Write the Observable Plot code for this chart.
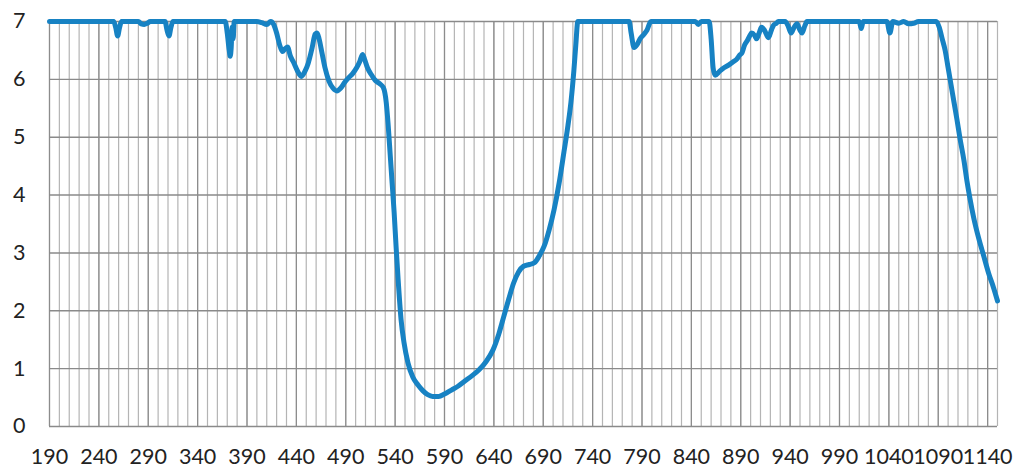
<!DOCTYPE html>
<html>
<head>
<meta charset="utf-8">
<script src="https://cdn.jsdelivr.net/npm/d3@7"></script>
<script src="https://cdn.jsdelivr.net/npm/@observablehq/plot@0.6"></script>
<style>
  html, body { margin: 0; padding: 0; background: #ffffff; }
  #chart { width: 1013px; height: 468px; }
</style>
</head>
<body>
<div id="chart"></div>
<script>
// ---- data ----
const xValues = [
  190, 250, 255, 257, 259, 261, 263, 280, 283, 286, 289, 292, 307, 309, 311, 313, 315,
  368, 370, 372, 373, 374, 375, 376, 377, 400, 405, 410, 414, 417, 420, 423, 426, 428,
  431, 434, 437, 441, 445, 449, 452, 456, 459, 461, 463, 466, 469, 473, 477, 481, 485,
  489, 493, 497, 501, 504, 507, 509, 512, 516, 520, 524, 528, 531, 533, 535, 537, 539,
  541, 543, 546, 549, 553, 558, 563, 568, 573, 578, 584, 590, 597, 604, 611, 618, 625,
  632, 639, 645, 650, 655, 660, 665, 670, 676, 681, 686, 691, 696, 701, 706, 711, 715,
  718, 721, 723, 725, 777, 779, 782, 785, 788, 792, 795, 799, 844, 847, 850, 858, 860,
  862, 864, 868, 873, 878, 882, 886, 889, 891, 894, 897, 899, 901, 904, 906, 909, 911,
  914, 918, 921, 923, 926, 928, 935, 938, 941, 944, 947, 950, 952, 955, 957, 1010, 1012,
  1014, 1038, 1041, 1044, 1050, 1055, 1060, 1065, 1070, 1088, 1091, 1094, 1097, 1100,
  1103, 1106, 1109, 1112, 1116, 1119, 1122, 1126, 1131, 1136, 1141, 1146, 1150
];
const yValues = [
  7, 7, 7, 6.9, 6.75, 6.9, 7, 7, 6.96, 6.95, 6.97, 7, 7, 6.85, 6.75, 6.9, 7,
  7, 6.8, 6.5, 6.4, 6.55, 6.9, 6.7, 7, 7, 6.98, 6.95, 7, 6.95, 6.8, 6.6, 6.48, 6.52,
  6.56, 6.4, 6.3, 6.15, 6.05, 6.15, 6.28, 6.55, 6.78, 6.8, 6.7, 6.45, 6.2, 5.97, 5.85, 5.8, 5.85,
  5.95, 6.03, 6.1, 6.2, 6.3, 6.43, 6.35, 6.2, 6.08, 5.98, 5.93, 5.86, 5.6, 5.2, 4.7, 4.2, 3.7,
  3.1, 2.55, 1.85, 1.45, 1.1, 0.85, 0.72, 0.62, 0.55, 0.52, 0.52, 0.56, 0.63, 0.7, 0.79, 0.88, 0.98,
  1.12, 1.32, 1.6, 1.9, 2.2, 2.48, 2.67, 2.77, 2.8, 2.83, 2.95, 3.12, 3.4, 3.75, 4.2, 4.75, 5.2,
  5.6, 6.15, 6.6, 7, 7, 6.8, 6.55, 6.6, 6.7, 6.78, 6.85, 7, 7, 6.95, 7, 7, 6.7,
  6.2, 6.07, 6.13, 6.2, 6.25, 6.3, 6.35, 6.42, 6.45, 6.6, 6.68, 6.75, 6.8, 6.76, 6.7, 6.82, 6.9,
  6.85, 6.72, 6.85, 6.93, 6.97, 7, 7, 6.92, 6.8, 6.9, 6.96, 6.85, 6.8, 6.93, 7, 7, 6.88,
  7, 7, 6.8, 7, 6.97, 7, 6.96, 6.97, 7, 7, 6.9, 6.7, 6.5, 6.2,
  5.9, 5.6, 5.3, 4.98, 4.6, 4.25, 3.95, 3.6, 3.25, 2.95, 2.65, 2.4, 2.17
];
const xTickLabels = d3.range(190, 1141, 50);        // 190, 240, ... 1140
const xGridMinor = d3.range(190, 1151, 10);
const xGridMajor = d3.range(190, 1151, 50);
const yTicks = [0, 1, 2, 3, 4, 5, 6, 7];

const data = xValues.map((x, i) => ({x, y: yValues[i]}));

const chart = Plot.plot({
  width: 1013,
  height: 468,
  marginLeft: 49,
  marginRight: 16,
  marginTop: 21,
  marginBottom: 42,
  style: {fontFamily: "Lato, 'Open Sans', sans-serif", fontSize: "21px", color: "#222222", background: "#ffffff"},
  x: {domain: [190, 1150], label: null},
  y: {domain: [0, 7], label: null},
  marks: [
    Plot.ruleX(xGridMinor, {stroke: "#b4b4b4", strokeWidth: 1.2}),
    Plot.ruleX(xGridMajor, {stroke: "#8c8c8c", strokeWidth: 1.2}),
    Plot.ruleY(yTicks, {stroke: "#8a8a8a", strokeWidth: 1.4}),
    Plot.axisX(xTickLabels, {tickSize: 0, tickPadding: 22, tickFormat: "d", fill: "#222222", fontSize: 21.5}),
    Plot.axisY(yTicks, {tickSize: 0, tickPadding: 24, tickFormat: "d", fill: "#222222", fontSize: 21.5}),
    Plot.line(data, {x: "x", y: "y", stroke: "#1782c3", strokeWidth: 5, curve: "monotone-x", strokeLinejoin: "round", strokeLinecap: "round"})
  ]
});
document.getElementById("chart").appendChild(chart);
</script>
</body>
</html>
